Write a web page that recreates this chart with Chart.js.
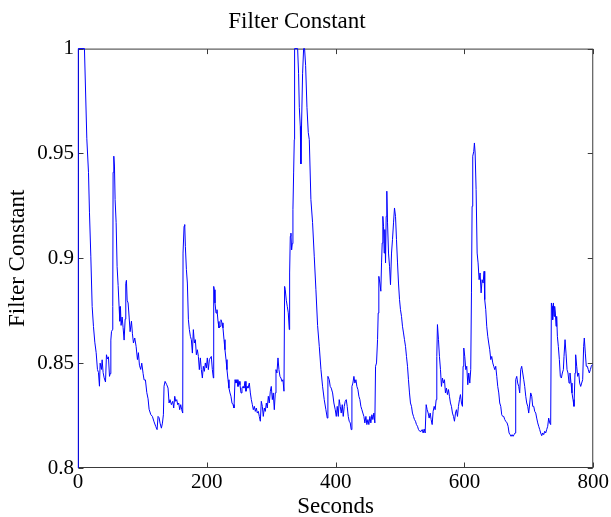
<!DOCTYPE html>
<html>
<head>
<meta charset="utf-8">
<script src="https://cdn.jsdelivr.net/npm/chart.js@4/dist/chart.umd.min.js"></script>
<style>
  html, body { margin: 0; padding: 0; background: #ffffff; }
  #wrap { width: 611px; height: 517px; }
</style>
</head>
<body>
<div id="wrap"><canvas id="c" width="611" height="517"></canvas></div>
<script>
// ---- data ----
const chartTitle = 'Filter Constant';
const xAxisTitle = 'Seconds';
const yAxisTitle = 'Filter Constant';
const xTicks = [0, 200, 400, 600, 800];
const yTicks = [0.8, 0.85, 0.9, 0.95, 1];

const seconds = [
0,0.5,10,13.7,16.3,17.8,19.9,22.0,24.0,26.1,28.2,30.2,31.8,33.3,34.4,36.4,37.5,39.0,40.6,42.7,44.2,45.8,47.3,48.9,49.9,51.0,52.0,53.5,54.0,54.5,55.6,56.6,57.6,59.2,60.7,62.3,63.8,64.9,65.9,66.9,68.5,70.0,71.6,73.2,74.2,75.2,76.3,77.8,79.4,80.9,83.0,84.5,86.1,88.1,90.2,92.3,93.8,95.4,97.4,99.0,101.1,102.6,104.7,106.8,108.8,110.4,113.0,115.5,118.1,120.7,122.8,124.3,125.9,127.4,129.5,131.1,132.6,133.6,
135.2,137.8,139.8,141.4,142.9,145.0,147.1,148.6,150.2,151.7,153.3,154.8,156.4,157.9,159.5,161.0,162.6,163.1,164.7,165.7,166.7,168.3,169.8,171.4,172.9,174.5,176.0,177.6,179.1,180.7,182.2,183.8,185.3,186.9,188.4,190.0,191.5,193.1,194.6,196.2,197.7,199.3,200.8,202.4,204.0,205.5,207.0,208.6,210.2,210.7,211.7,212.7,214.3,215.8,217.4,218.9,220.5,222.0,223.6,225.1,226.7,228.2,229.8,231.3,232.9,234.4,236.0,237.5,239.1,240.7,242.2,243.8,245.3,246.9,248.4,250.0,251.5,253.1,254.6,256.2,257.7,259.3,260.8,262.4,263.9,
266.0,267.6,269.1,270.7,272.2,273.8,275.3,276.9,278.4,280.0,281.5,283.1,284.6,286.2,287.7,289.3,290.8,292.4,293.9,295.5,297.0,298.6,300.1,301.7,303.2,304.8,306.3,307.4,308.9,310.5,312.0,313.6,315.1,316.7,318.2,319.8,320.8,321.8,323.4,324.9,326.5,328.0,328.6,329.6,330.6,331.7,332.7,333.7,334.8,335.8,
336.3,341.0,342.5,343.6,345.1,346.1,347.2,348.7,350.3,351.8,353.4,355.5,357.5,359.1,361.6,364.2,366.8,369.4,372.0,374.6,377.2,379.7,382.3,384.9,387.0,388.0,390.1,391.6,393.2,395.3,397.3,
399.4,401.0,402.5,404.1,405.6,407.2,408.7,410.3,411.8,413.4,414.9,416.5,418.0,419.6,421.1,422.7,424.2,425.3,426.8,428.4,429.9,431.5,433.0,434.6,436.1,437.7,439.2,440.8,442.3,443.9,445.4,447.0,448.5,450.1,451.6,453.2,454.7,456.3,457.8,459.4,460.9,462.0,463.5,465.1,466.1,467.1,468.7,470.2,471.3,472.3,473.3,474.4,475.4,476.4,477.5,478.5,479.5,480.6,482.1,483.7,485.2,486.8,488.3,489.9,491.4,493.0,494.5,496.1,497.6,499.2,500.7,502.3,503.8,505.4,506.9,508.5,510.0,511.6,513.1,514.7,516.2,517.8,519.3,520.9,522.4,524.0,525.5,527.1,528.7,530.7,
532.8,534.4,535.9,537.5,539.0,540.6,542.1,543.7,545.2,546.8,548.3,549.9,551.4,553.0,554.5,556.1,557.1,558.1,559.7,561.2,562.8,564.3,565.9,567.4,569.0,570.5,572.1,573.6,575.2,576.7,578.3,579.8,581.4,583.0,584.5,586.1,587.6,589.2,590.7,592.3,593.8,595.4,596.9,597.9,599.0,600.5,602.1,603.6,605.2,606.7,608.3,609.8,610.9,611.9,612.9,614.5,615.5,616.6,618.1,619.7,621.2,622.8,624.3,625.9,627.4,629.0,630.5,631.5,633.1,634.6,636.2,637.7,639.3,640.9,642.4,644.0,645.5,647.1,648.6,650.2,651.7,653.3,654.8,656.4,657.9,659.5,661.0,662.6,664.1,
666.2,667.8,669.3,670.9,672.4,674.0,675.5,677.1,678.6,679.6,681.2,682.7,684.3,685.8,687.4,688.9,690.5,692.1,693.6,695.2,696.7,698.3,699.8,701.4,702.9,704.5,706.0,707.6,709.1,710.7,712.2,713.8,715.3,716.9,718.4,720.0,721.5,723.1,724.6,726.2,727.7,729.3,730.8,732.4,733.9,735.0,736.0,737.0,738.1,739.1,740.1,741.2,742.2,743.2,744.3,745.8,747.4,748.9,750.5,752.0,753.6,754.6,756.2,757.7,759.3,760.8,762.4,763.9,765.5,767.0,768.6,770.1,771.7,772.7,774.3,775.8,777.4,778.9,780.5,782.0,783.6,785.1,786.1,787.7,789.2,790.8,792.3,793.9,795.5,797.0,798.6
];

const filterConstant = [
0.800,1.000,1.000,0.957,0.941,0.922,0.901,0.877,0.8675,0.860,0.855,0.847,0.8455,0.839,0.850,0.847,0.8516,0.8455,0.843,0.841,0.854,0.852,0.853,0.8437,0.845,0.861,0.865,0.866,0.877,0.941,0.9487,0.944,0.928,0.917,0.896,0.887,0.877,0.870,0.877,0.868,0.872,0.867,0.861,0.871,0.888,0.8895,0.880,0.8787,0.872,0.865,0.870,0.864,0.8596,0.862,0.858,0.8517,0.855,0.849,0.847,0.850,0.845,0.842,0.842,0.836,0.833,0.828,0.8255,0.8246,0.822,0.8198,0.8183,0.8246,0.824,0.8214,0.819,0.8214,0.8254,0.839,
0.8413,0.8397,0.8381,0.8310,0.8326,0.8302,0.8318,0.8286,0.8342,0.8318,0.8326,0.8302,0.8310,0.8278,0.8302,0.8278,0.8262,0.9025,0.9153,0.9161,0.9057,0.8946,0.8882,0.8707,0.8660,0.8628,0.8612,0.8548,0.8660,0.8596,0.8612,0.8540,0.8564,0.8532,0.8469,0.8525,0.8469,0.8429,0.8485,0.8461,0.8501,0.8477,0.8525,0.8469,0.8517,0.8525,0.8532,0.8469,0.8429,0.8866,0.8850,0.8787,0.8739,0.8755,0.8699,0.8668,0.8676,0.8707,0.8692,0.8668,0.8612,0.8564,0.8517,0.8469,0.8421,0.8381,0.8358,0.8342,0.8310,0.8302,0.8286,0.8421,0.8405,0.8421,0.8389,0.8413,0.8397,0.8358,0.8381,0.8389,0.8381,0.8413,0.8366,0.8389,0.8381,
0.8405,0.8358,0.8326,0.8302,0.8278,0.8294,0.8270,0.8286,0.8262,0.8270,0.8246,0.8223,0.8318,0.8294,0.8246,0.8286,0.8270,0.8310,0.8286,0.8342,0.8310,0.8366,0.8389,0.8326,0.8358,0.8278,0.8358,0.8469,0.8453,0.8525,0.8469,0.8437,0.8429,0.8413,0.8421,0.8366,0.8866,0.885,0.880,0.8771,0.874,0.866,0.893,0.9105,0.912,0.904,0.907,0.9232,0.9407,0.9566,
1.000,1.000,0.988,0.972,0.963,0.945,0.965,0.988,1.000,1.000,0.992,0.972,0.960,0.9566,0.928,0.917,0.901,0.885,0.868,0.858,0.847,0.839,0.8326,0.8278,0.8238,0.8437,0.8421,0.8389,0.8381,0.8358,0.8310,
0.8278,0.8246,0.8294,0.8246,0.8326,0.8294,0.8262,0.8302,0.8246,0.8294,0.8318,0.8326,0.8294,0.8246,0.8223,0.8215,0.8183,0.8389,0.8405,0.8437,0.8405,0.8421,0.8389,0.8374,0.8342,0.8326,0.8294,0.8278,0.8262,0.8246,0.8215,0.8246,0.8207,0.8231,0.8207,0.8246,0.8215,0.8254,0.8231,0.8262,0.8215,0.8485,0.8501,0.8612,0.8739,0.8914,0.8882,0.8843,0.8978,0.9073,0.9200,0.9153,0.9025,0.9137,0.8978,0.9200,0.9320,0.9169,0.9025,0.8962,0.8874,0.9025,0.9089,0.9169,0.9240,0.9200,0.9089,0.8978,0.8882,0.8803,0.8755,0.8723,0.8676,0.8644,0.8612,0.8580,0.8532,0.8485,0.8421,0.8358,0.8310,0.8294,0.8262,0.8246,0.8231,0.8223,0.8207,0.8199,0.8183,0.8175,
0.8175,0.8183,0.8167,0.8186,0.8167,0.8302,0.8278,0.8262,0.8238,0.8262,0.8231,0.8207,0.8270,0.8294,0.8278,0.8326,0.8532,0.8684,0.8612,0.8532,0.8469,0.8389,0.8429,0.8405,0.8421,0.8358,0.8381,0.8350,0.8374,0.8342,0.8310,0.8294,0.8262,0.8246,0.8223,0.8262,0.8278,0.8246,0.8294,0.8326,0.8350,0.8310,0.8294,0.8485,0.8572,0.8532,0.8469,0.8485,0.8397,0.8453,0.8405,0.8469,0.8835,0.9248,0.9487,0.9510,0.9550,0.9502,0.9328,0.9025,0.8978,0.8898,0.8930,0.8835,0.8898,0.8882,0.8938,0.8803,0.8755,0.8676,0.8628,0.8596,0.8564,0.8517,0.8532,0.8501,0.8485,0.8469,0.8485,0.8437,0.8389,0.8358,0.8310,0.8294,0.8254,0.8246,0.8246,0.8231,0.8223,
0.8215,0.8199,0.8167,0.8159,0.8151,0.8159,0.8151,0.8159,0.8167,0.8421,0.8437,0.8405,0.8389,0.8358,0.8469,0.8485,0.8453,0.8421,0.8389,0.8342,0.8310,0.8294,0.8262,0.8310,0.8358,0.8342,0.8294,0.8294,0.8270,0.8262,0.8238,0.8215,0.8199,0.8183,0.8167,0.8154,0.8167,0.8159,0.8175,0.8167,0.8183,0.8199,0.8238,0.8215,0.8207,0.8787,0.8771,0.8707,0.8787,0.8723,0.8771,0.8739,0.8676,0.8723,0.8628,0.8580,0.8517,0.8437,0.8429,0.8453,0.8469,0.8532,0.8612,0.8548,0.8469,0.8453,0.8405,0.8453,0.8405,0.8358,0.8326,0.8294,0.8453,0.8540,0.8485,0.8437,0.8453,0.8405,0.8389,0.8405,0.8421,0.8580,0.8620,0.8548,0.8485,0.8485,0.8469,0.8453,0.8469,0.8485,0.8493
];

// ---- chart ----
const serif = "'Liberation Serif', 'Times New Roman', serif";
const points = seconds.map((s, i) => ({ x: s, y: filterConstant[i] }));

const framePlugin = {
  id: 'frame',
  beforeDatasetsDraw(chart) {
    const { ctx, chartArea: a, scales } = chart;
    ctx.save();
    ctx.strokeStyle = '#3a3a3a';
    ctx.lineWidth = 1;
    const L = a.left + 0.5, R = a.right - 0.5, T = a.top + 0.5, B = a.bottom - 0.5;
    ctx.strokeRect(L, T, R - L, B - T);
    const tl = 5;
    ctx.beginPath();
    scales.x.ticks.forEach(t => {
      const px = Math.round(scales.x.getPixelForValue(t.value)) + 0.5;
      ctx.moveTo(px, B); ctx.lineTo(px, B - tl);
      ctx.moveTo(px, T); ctx.lineTo(px, T + tl);
    });
    scales.y.ticks.forEach(t => {
      const py = Math.round(scales.y.getPixelForValue(t.value)) + 0.5;
      ctx.moveTo(L, py); ctx.lineTo(L + tl, py);
      ctx.moveTo(R, py); ctx.lineTo(R - tl, py);
    });
    ctx.stroke();
    ctx.restore();
  }
};

new Chart(document.getElementById('c'), {
  type: 'line',
  data: {
    datasets: [{
      data: points,
      borderColor: '#0000ff',
      borderWidth: 1,
      pointRadius: 0,
      tension: 0,
      fill: false,
      clip: false
    }]
  },
  options: {
    responsive: false,
    animation: false,
    devicePixelRatio: 1,
    layout: { padding: { left: 0, right: 17, top: 0, bottom: 0 } },
    plugins: {
      legend: { display: false },
      tooltip: { enabled: false },
      title: {
        display: true,
        text: chartTitle,
        color: '#000',
        font: { family: serif, size: 23, weight: 'normal', lineHeight: 1.2 },
        padding: { top: 8, bottom: 13 }
      }
    },
    scales: {
      x: {
        type: 'linear',
        min: 0, max: 800,
        afterBuildTicks: s => { s.ticks = xTicks.map(v => ({ value: v })); },
        afterFit: s => { s.height = 49; },
        grid: { display: false, drawTicks: false },
        border: { display: false },
        ticks: {
          color: '#000', padding: 2,
          font: { family: serif, size: 21 },
          callback: v => String(v)
        },
        title: {
          display: true, text: xAxisTitle, color: '#000',
          font: { family: serif, size: 23, lineHeight: 0.9 },
          padding: { top: 0, bottom: 0 }
        }
      },
      y: {
        type: 'linear',
        min: 0.8, max: 1,
        afterBuildTicks: s => { s.ticks = yTicks.map(v => ({ value: v })); },
        afterFit: s => { s.width = 78; },
        grid: { display: false, drawTicks: false },
        border: { display: false },
        ticks: {
          color: '#000', padding: 4,
          font: { family: serif, size: 21 },
          callback: v => String(Number(v.toFixed(2)))
        },
        title: {
          display: true, text: yAxisTitle, color: '#000',
          font: { family: serif, size: 23, lineHeight: 1.0 },
          padding: { top: 6, bottom: 0 }
        }
      }
    }
  },
  plugins: [framePlugin]
});
</script>
</body>
</html>
